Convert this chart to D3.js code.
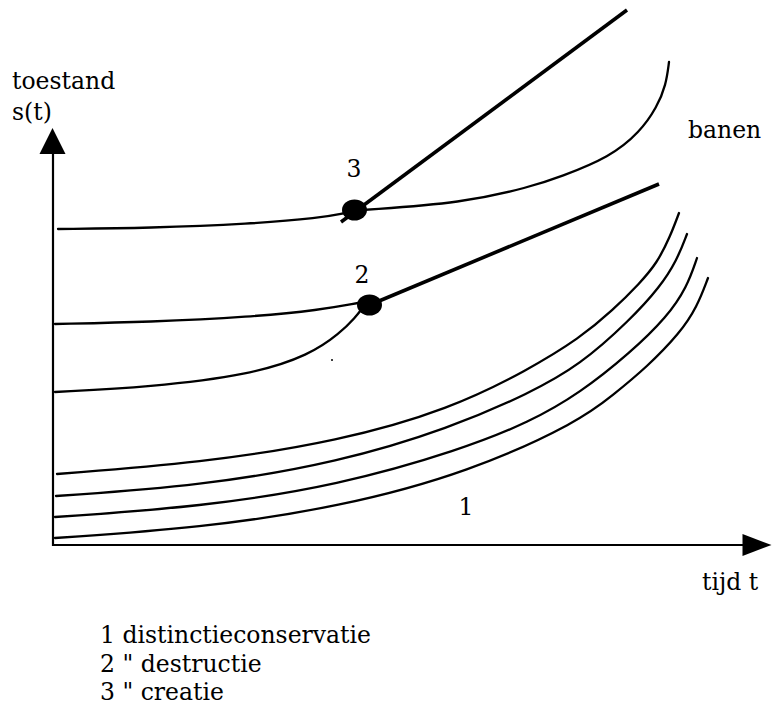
<!DOCTYPE html>
<html>
<head>
<meta charset="utf-8">
<script src="https://cdn.jsdelivr.net/npm/d3@7"></script>
<style>
  html, body { margin: 0; padding: 0; background: #fff; }
  svg { display: block; }
  text { font-family: "DejaVu Serif", "Liberation Serif", serif; fill: #000; }
</style>
</head>
<body>
<svg id="chart" width="772" height="706"></svg>
<script>
// ---- data (t = time, s = state) ----
// family 1: distinctieconservatie (four trajectories)
const conservA = [[4,71],[147,82],[287,104],[397,136],[475,175],[527,207],[560,235],[587,262],[604,282],[617,308],[626,332]];
const conservB = [[3,49],[147,59],[287,83],[397,117],[477,152],[527,180],[577,225],[607,258],[624,285],[634,311]];
const conservC = [[2,28],[147,38],[287,60],[407,95],[477,123],[527,152],[577,192],[614,228],[634,258],[644,287]];
const conservD = [[2,7],[147,17],[287,38],[417,73],[527,124],[560,150],[594,178],[627,212],[644,238],[655,267]];
// family 2: destructie (two trajectories merge into one)
const destrUpper = [[2,221],[97,223],[197,228],[267,235],[305,242]];
const destrLower = [[2,153],[97,158],[197,170],[257,190],[287,212],[302,227],[311,239]];
const destrPoint = [316.5,240];
const destrBranch = [[316.5,240],[606,361]];
// family 3: creatie (one trajectory splits into two)
const creatIn = [[5,316],[97,317],[197,321],[267,327],[292,332]];
const creatPoint = [301.5,335];
const creatBranch = [[288,323],[574,535]];
const creatCurve = [[309,335],[410,342],[477,358],[507,368],[557,388],[587,413],[604,438],[613,460],[616,483]];
const speck = [[279,185]];
// labels
const axisLabelsY = ["toestand","s(t)"];
const axisLabelX = "tijd t";
const trajLabel = "banen";
const pointLabels = [{txt:"3", t:301, s:368},{txt:"2", t:309, s:262},{txt:"1", t:413, s:30}];
const legendLines = ["1 distinctieconservatie","2 \" destructie","3 \" creatie"];

// ---- scales ----
const x = d3.scaleLinear().domain([0,720]).range([53,773]);
const y = d3.scaleLinear().domain([0,417]).range([545,128]);

const svg = d3.select("#chart");
const line = d3.line().x(d=>x(d[0])).y(d=>y(d[1])).curve(d3.curveBasis);
const straight = d3.line().x(d=>x(d[0])).y(d=>y(d[1]));

// axes
const axes = svg.append("g").attr("stroke","#000").attr("stroke-width",2.2);
axes.append("line").attr("x1",x(0)).attr("y1",y(-1)).attr("x2",x(0)).attr("y2",y(400));
axes.append("line").attr("x1",x(0)).attr("y1",y(0)).attr("x2",x(700)).attr("y2",y(0));
// arrowheads
const yt = [x(-0.5), y(417)];
svg.append("path").attr("fill","#000")
  .attr("d",`M${yt[0]},${yt[1]} L${yt[0]-13},${yt[1]+26} L${yt[0]+13},${yt[1]+26} Z`);
const xt = [x(718.5), y(0)];
svg.append("path").attr("fill","#000")
  .attr("d",`M${xt[0]},${xt[1]} L${xt[0]-29},${xt[1]-11} L${xt[0]-29},${xt[1]+11} Z`);

// thin trajectories
const thin = [conservA,conservB,conservC,conservD,destrUpper,destrLower,creatIn,creatCurve];
svg.append("g").selectAll("path").data(thin).join("path")
  .attr("d",line).attr("fill","none").attr("stroke","#000").attr("stroke-width",2.3)
  .attr("stroke-linecap","round");

// thick branches
svg.append("g").selectAll("path").data([destrBranch,creatBranch]).join("path")
  .attr("d",straight).attr("fill","none").attr("stroke","#000").attr("stroke-width",3.6)
  .attr("stroke-linecap","butt");

// bifurcation points
svg.append("g").selectAll("ellipse").data([creatPoint,destrPoint]).join("ellipse")
  .attr("cx",d=>x(d[0])).attr("cy",d=>y(d[1])).attr("rx",12.5).attr("ry",10.5).attr("fill","#000");
svg.append("g").selectAll("circle").data(speck).join("circle")
  .attr("cx",d=>x(d[0])).attr("cy",d=>y(d[1])).attr("r",1).attr("fill","#000");

// texts
const fs = 23.5;
svg.append("text").attr("x",12).attr("y",89).attr("font-size",fs).text(axisLabelsY[0]);
svg.append("text").attr("x",12).attr("y",120).attr("font-size",fs).text(axisLabelsY[1]);
svg.append("text").attr("x",688).attr("y",138).attr("font-size",fs).text(trajLabel);
svg.append("text").attr("x",702).attr("y",590).attr("font-size",fs).text(axisLabelX);
svg.append("g").selectAll("text").data(pointLabels).join("text")
  .attr("x",d=>x(d.t)).attr("y",d=>y(d.s)).attr("font-size",fs).attr("text-anchor","middle").text(d=>d.txt);
svg.append("g").selectAll("text").data(legendLines).join("text")
  .attr("x",100).attr("y",(d,i)=>643+i*28.5).attr("font-size",fs).text(d=>d);
</script>
</body>
</html>
